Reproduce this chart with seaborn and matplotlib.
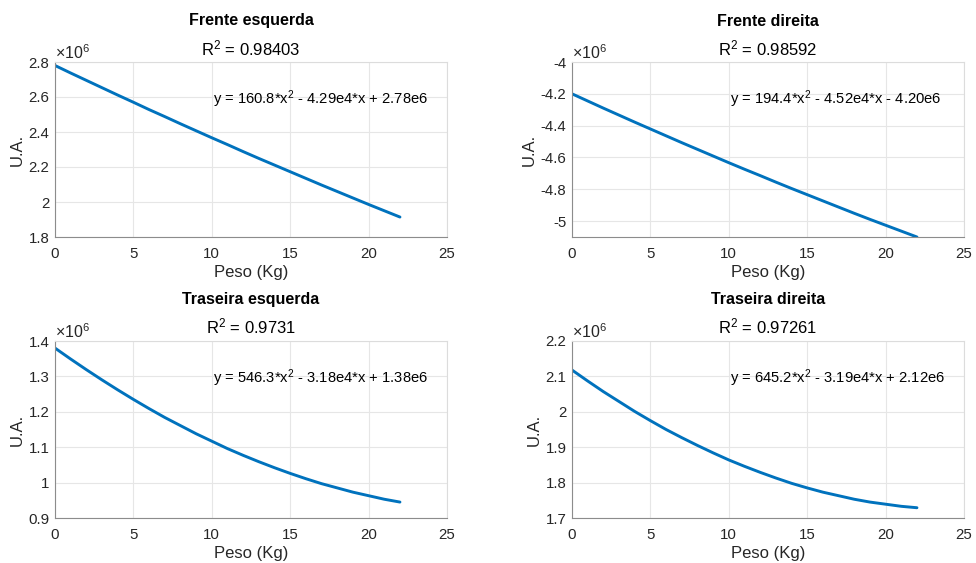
import matplotlib
matplotlib.use("Agg")
import matplotlib.pyplot as plt
import matplotlib.ticker as mticker
import seaborn as sns
import pandas as pd

# ---- data (y in units of 1e6) ----
peso = [0, 1, 2, 3, 4, 5, 6, 7, 8, 9, 10, 11, 12, 13, 14, 15, 16, 17, 18, 19, 20, 21, 22]

frente_esq = [2.780, 2.737, 2.695, 2.653, 2.611, 2.570, 2.528, 2.488, 2.447, 2.407, 2.367, 2.328,
              2.288, 2.249, 2.211, 2.173, 2.135, 2.097, 2.060, 2.023, 1.986, 1.950, 1.914]
frente_dir = [-4.200, -4.245, -4.290, -4.334, -4.378, -4.421, -4.464, -4.507, -4.549, -4.591, -4.633,
              -4.674, -4.714, -4.755, -4.795, -4.834, -4.873, -4.912, -4.951, -4.989, -5.026, -5.063, -5.100]
traseira_esq = [1.380, 1.349, 1.319, 1.290, 1.262, 1.235, 1.209, 1.184, 1.161, 1.138, 1.117, 1.096,
                1.077, 1.059, 1.042, 1.026, 1.011, 0.997, 0.985, 0.973, 0.963, 0.953, 0.945]
traseira_dir = [2.118, 2.087, 2.057, 2.029, 2.001, 1.975, 1.950, 1.927, 1.905, 1.884, 1.864, 1.846,
                1.829, 1.813, 1.798, 1.785, 1.773, 1.763, 1.753, 1.745, 1.739, 1.733, 1.729]

titles = ["Frente esquerda", "Frente direita", "Traseira esquerda", "Traseira direita"]
r2_values = ["0.98403", "0.98592", "0.9731", "0.97261"]
equations = [
    "y = 160.8*x$^2$ - 4.29e4*x + 2.78e6",
    "y = 194.4*x$^2$ - 4.52e4*x - 4.20e6",
    "y = 546.3*x$^2$ - 3.18e4*x + 1.38e6",
    "y = 645.2*x$^2$ - 3.19e4*x + 2.12e6",
]
y_limits = [(1.8, 2.8), (-5.1, -4.0), (0.9, 1.4), (1.7, 2.2)]
y_ticks = [
    [1.8, 2.0, 2.2, 2.4, 2.6, 2.8],
    [-5.0, -4.8, -4.6, -4.4, -4.2, -4.0],
    [0.9, 1.0, 1.1, 1.2, 1.3, 1.4],
    [1.7, 1.8, 1.9, 2.0, 2.1, 2.2],
]
x_ticks = [0, 5, 10, 15, 20, 25]
series = [frente_esq, frente_dir, traseira_esq, traseira_dir]

# ---- style ----
sns.set_theme(style="white")
plt.rcParams["font.family"] = ["Liberation Sans", "DejaVu Sans"]
plt.rcParams["mathtext.fontset"] = "custom"
plt.rcParams["mathtext.rm"] = "Liberation Sans"
plt.rcParams["mathtext.it"] = "Liberation Sans:italic"

line_color = "#0072BD"
text_color = "#262626"
axis_color = "#8c8c8c"
grid_color = "#e6e6e6"

fig = plt.figure(figsize=(9.76, 5.63), dpi=100)

W, H = 976, 563
boxes = [
    (55, 62, 447, 237),
    (572, 62, 964, 237),
    (55, 341, 447, 518),
    (572, 341, 964, 518),
]

for i in range(4):
    x0, y0, x1, y1 = boxes[i]
    ax = fig.add_axes([x0 / W, 1 - y1 / H, (x1 - x0) / W, (y1 - y0) / H])
    df = pd.DataFrame({"Peso": peso, "UA": series[i]})
    sns.lineplot(data=df, x="Peso", y="UA", ax=ax, color=line_color, linewidth=2.1)

    ax.set_xlim(0, 25)
    ax.set_ylim(*y_limits[i])
    ax.set_xticks(x_ticks)
    ax.set_yticks(y_ticks[i])
    ax.yaxis.set_major_formatter(mticker.FuncFormatter(lambda v, p: "%g" % round(v, 3)))
    ax.xaxis.set_major_formatter(mticker.FuncFormatter(lambda v, p: "%g" % v))
    ax.grid(True, color=grid_color, linewidth=0.8)
    ax.set_axisbelow(True)
    ax.tick_params(axis="both", direction="in", length=3, width=0.6,
                   colors=axis_color, labelcolor=text_color, labelsize=10.8)
    ax.tick_params(axis="x", pad=7)
    ax.tick_params(axis="y", pad=4)
    for side in ["left", "bottom"]:
        ax.spines[side].set_color(axis_color)
        ax.spines[side].set_linewidth(0.8)
    for side in ["top", "right"]:
        ax.spines[side].set_color("#dcdcdc")
        ax.spines[side].set_linewidth(0.8)

    ax.set_xlabel("Peso (Kg)", fontsize=12, color=text_color, labelpad=3)
    ax.set_ylabel("U.A.", fontsize=12, color=text_color, labelpad=2.5)

    ax.text(0.5, 1.0 + 41 / 175, titles[i], transform=ax.transAxes, ha="center",
            va="center", fontsize=11.5, fontweight="bold", color="black")
    ax.text(0.5, 1.0 + 14 / 175, "R$^2$ = " + r2_values[i], transform=ax.transAxes,
            ha="center", va="center", fontsize=12, color="black")
    ax.text(0.0, 1.0, r"$\times$10$^6$", transform=ax.transAxes, ha="left",
            va="bottom", fontsize=11.5, color=text_color)
    ax.text(0.403, 0.79, equations[i], transform=ax.transAxes, ha="left",
            va="center", fontsize=10.6, color="black")

fig.savefig("out.png", dpi=100, facecolor="white")
